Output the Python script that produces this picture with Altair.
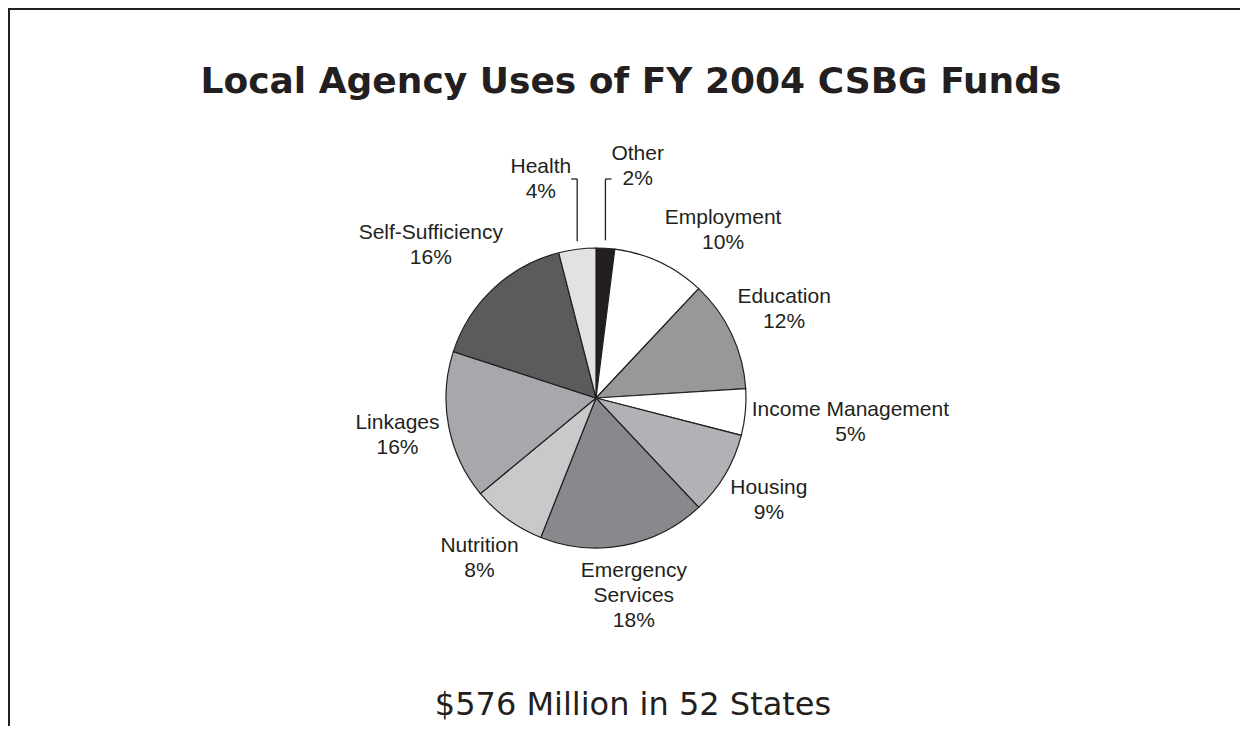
import math
import altair as alt
import pandas as pd

# ---- data ----
categories = ["Other", "Employment", "Education", "Income Management", "Housing",
              "Emergency Services", "Nutrition", "Linkages", "Self-Sufficiency", "Health"]
shares = [2, 10, 12, 5, 9, 18, 8, 16, 16, 4]
display_names = ["Other", "Employment", "Education", "Income Management", "Housing",
                 "Emergency\nServices", "Nutrition", "Linkages", "Self-Sufficiency", "Health"]
fills = ["#231f20", "#ffffff", "#98989b", "#ffffff", "#b1b2b5",
         "#88898c", "#c8c9cb", "#a7a8ab", "#5b5b5e", "#e1e2e3"]
title_text = "Local Agency Uses of FY 2004 CSBG Funds"
subtitle_text = "$576 Million in 52 States"

# ---- layout constants ----
W, H = 1234, 718
CX, CY = 588, 390          # pie centre (chart pixels)
R = 150                    # pie radius
LABEL_FS = 21
LINE_H = 25
PAD = 14
INK = "#231f20"


def text_width(s, size):
    w = 0.0
    for ch in s:
        if ch in "ijl":
            w += 0.222
        elif ch in "Ift .":
            w += 0.278
        elif ch in "r-":
            w += 0.333
        elif ch in "cksvxyz":
            w += 0.5
        elif ch in "mM":
            w += 0.833
        elif ch == "w":
            w += 0.722
        elif ch == "%":
            w += 0.889
        elif ch in "OGQ":
            w += 0.778
        elif ch in "CDHNRU":
            w += 0.722
        elif ch.isupper():
            w += 0.667
        else:
            w += 0.556
    return w * size


df = pd.DataFrame({"category": categories, "share": shares, "name": display_names})
df["order"] = range(len(df))
total = df["share"].sum()
df["mid"] = (df["share"].cumsum() - df["share"] / 2) / total * 2 * math.pi
df["label"] = df["name"] + "\n" + df["share"].astype(str) + "%"
df["nlines"] = df["label"].str.count("\n") + 1
df["w"] = [max(text_width(t, LABEL_FS) for t in lab.split("\n")) for lab in df["label"]]
df["h"] = df["nlines"] * LINE_H

placed = []      # boxes: (x0, y0, x1, y1)
centres = {}
segments = [
    {"x": 0, "y": 1, "x2": W - 2, "y2": 1, "w": 2},      # frame top
    {"x": 1, "y": 0, "x2": 1, "y2": H, "w": 2},          # frame left
]


def overlaps(box):
    for b in placed:
        if (box[0] < b[2] + PAD and box[2] + PAD > b[0]
                and box[1] < b[3] + PAD and box[3] + PAD > b[1]):
            return True
    return False


# small slices at the top get an elbow leader line
for i, row in df.iterrows():
    a = row["mid"]
    s, c = math.sin(a), math.cos(a)
    if row["share"] < 5 and abs(s) < 0.3:
        ex = CX + R * s
        ey = CY - R * c
        elbow_y = CY - 219
        side = 1 if s > 0 else -1
        segments.append({"x": ex, "y": ey - 8, "x2": ex, "y2": elbow_y, "w": 1.3})
        segments.append({"x": ex, "y": elbow_y, "x2": ex + side * 6, "y2": elbow_y, "w": 1.3})
        bx = ex + side * (6 + row["w"] / 2)
        by = elbow_y - (LINE_H / 2 if side > 0 else 0)
        centres[i] = (bx, by)
        placed.append((bx - row["w"] / 2, by - row["h"] / 2, bx + row["w"] / 2, by + row["h"] / 2))

# other labels: outside the pie along the slice's mid-angle, turned away from the top if they collide
rest = [i for i in df.index if i not in centres]
rest.sort(key=lambda i: min(df.loc[i, "mid"], 2 * math.pi - df.loc[i, "mid"]))
for i in rest:
    row = df.loc[i]
    a = row["mid"]
    step = math.radians(1) * (1 if math.sin(a) > 0 else -1)
    for _ in range(60):
        s, c = math.sin(a), math.cos(a)
        r = 155 + (row["w"] / 2) * abs(s) + (row["h"] / 2) * abs(c)
        bx, by = CX + r * s, CY - r * c
        box = (bx - row["w"] / 2, by - row["h"] / 2, bx + row["w"] / 2, by + row["h"] / 2)
        if not overlaps(box):
            break
        a += step
    centres[i] = (bx, by)
    placed.append(box)

df["lx"] = [centres[i][0] for i in df.index]
# Vega puts the first line at y; shift so the block is centred
df["ly"] = [centres[i][1] - (df.loc[i, "nlines"] - 1) * LINE_H / 2 for i in df.index]
seg_df = pd.DataFrame(segments)

one = pd.DataFrame({"k": [0]})

pie = alt.Chart(df).mark_arc(stroke=INK, strokeWidth=1.2, outerRadius=R).encode(
    theta=alt.Theta("share:Q", stack=True),
    order=alt.Order("order:Q", sort="ascending"),
    color=alt.Color("category:N", scale=alt.Scale(domain=categories, range=fills), legend=None),
    x=alt.value(CX),
    y=alt.value(CY),
)

labels = alt.Chart(df).mark_text(
    font="Liberation Sans", fontSize=LABEL_FS, lineBreak="\n", lineHeight=LINE_H,
    align="center", baseline="middle", color=INK,
).encode(
    x=alt.X("lx:Q", scale=None),
    y=alt.Y("ly:Q", scale=None),
    text="label:N",
)

lines = alt.Chart(seg_df).mark_rule(color=INK).encode(
    x=alt.X("x:Q", scale=None), y=alt.Y("y:Q", scale=None),
    x2="x2:Q", y2="y2:Q",
    strokeWidth=alt.StrokeWidth("w:Q", scale=None, legend=None),
)

title = alt.Chart(one).mark_text(
    text=title_text, font="DejaVu Sans", fontWeight="bold", fontSize=36,
    align="center", baseline="alphabetic", color=INK,
).encode(x=alt.value(W / 2 + 6), y=alt.value(85))

subtitle = alt.Chart(one).mark_text(
    text=subtitle_text, font="DejaVu Sans", fontSize=32,
    align="center", baseline="alphabetic", color=INK,
).encode(x=alt.value(W / 2 + 8), y=alt.value(707))

chart = alt.layer(pie, lines, labels, title, subtitle).properties(
    width=W, height=H, padding=0, autosize=alt.AutoSizeParams(type="none"),
).configure_view(stroke="transparent", strokeWidth=0)

chart.save("out.html", embed_options={"renderer": "svg", "actions": False})
